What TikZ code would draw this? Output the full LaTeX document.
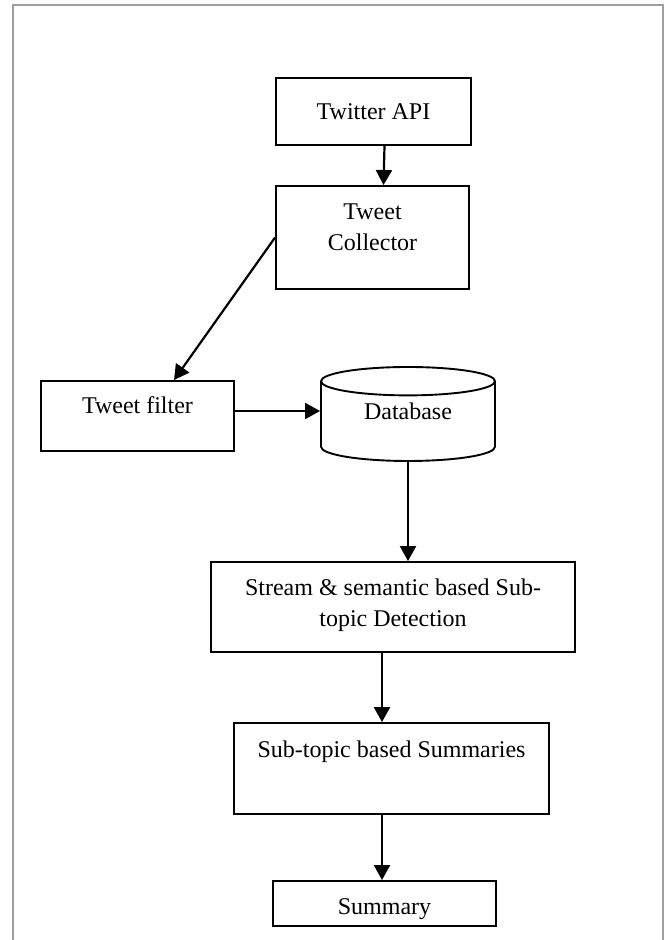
\documentclass[tikz,border=0pt]{standalone}
\usepackage{fontspec}
\setmainfont{Liberation Serif}
\usetikzlibrary{shapes.geometric,arrows.meta}

\begin{document}
\begin{tikzpicture}[x=1pt,y=-1pt,
    font=\fontsize{24}{31}\selectfont,
    box/.style={draw,line width=1.9pt,align=center,inner sep=0pt,text height=17pt},
    flow/.style={line width=2.2pt,-{Triangle[length=15pt,width=16pt]}}]
    \useasboundingbox (0,0) rectangle (667,940);
    \draw[gray!75,line width=1.5pt] (13,940) -- (13,5) -- (663,5) -- (663,940);
    \node[box,minimum width=195,minimum height=67,text depth=2pt] (api) at (373.5,111.5) {Twitter API};
    \node[box,minimum width=193,minimum height=103,text height=48pt,text depth=23pt] (collector) at (372.5,237.5) {Tweet\\Collector};
    \node[box,minimum width=193,minimum height=70,text depth=22pt] (filter) at (137.5,416) {Tweet filter};
    \node[cylinder,shape border rotate=90,aspect=0.3,draw,line width=1.9pt,
        minimum width=174,minimum height=94,text height=17pt,text depth=26pt] (db) at (408,423.5) {Database};
    \node[box,minimum width=364,minimum height=90,text height=48pt,text depth=10pt] (stream) at (393,607) {Stream \& semantic based Sub-\\topic Detection};
    \node[box,minimum width=315,minimum height=91,text depth=40pt] (subtop) at (391.5,768.5) {Sub-topic based Summaries};
    \node[box,minimum width=223,minimum height=45,text height=21pt,text depth=0pt] (summ) at (384.5,903.5) {Summary};
\draw[flow] ([xshift=11pt]api.south) -- ([xshift=11pt]collector.north);
\draw[flow] (collector.west) -- ([xshift=36.5pt]filter.north);
\draw[flow] ([yshift=5pt]filter.east) -- ([yshift=5pt]filter.east -| db.west);
\draw[flow] (db.south) -- (db.south |- stream.north);
\draw[flow] ([xshift=-11pt]stream.south) -- ([xshift=-11pt]stream.south |- subtop.north);
\draw[flow] ([xshift=-9.5pt]subtop.south) -- ([xshift=-9.5pt]subtop.south |- summ.north);
\end{tikzpicture}
\end{document}
